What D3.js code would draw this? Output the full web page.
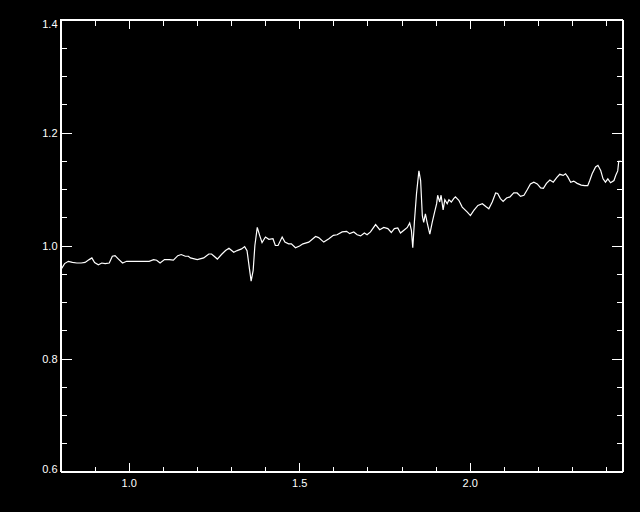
<!DOCTYPE html>
<html>
<head>
<meta charset="utf-8">
<script src="https://cdn.jsdelivr.net/npm/d3@7"></script>
<style>
  html, body { margin: 0; padding: 0; background: #000; }
  svg { display: block; }
  .tick text { font-family: "Liberation Sans", Arial, sans-serif; font-size: 11px; fill: #fff; }
</style>
</head>
<body>
<div id="chart"></div>
<script>
// spectrum values
const wave = [0.802,0.812,0.823,0.835,0.848,0.861,0.872,0.884,0.892,0.900,0.911,0.921,0.931,0.943,0.952,0.960,0.970,0.982,0.994,1.009,
  1.029,1.046,1.060,1.073,1.082,1.092,1.105,1.119,1.131,1.144,1.154,1.166,1.175,1.181,1.201,1.220,1.235,1.243,1.260,1.272,
  1.284,1.294,1.308,1.318,1.331,1.340,1.347,1.354,1.359,1.365,1.370,1.377,1.384,1.391,1.401,1.411,1.423,1.430,1.438,1.450,
  1.458,1.469,1.477,1.489,1.501,1.511,1.528,1.548,1.557,1.572,1.587,1.600,1.611,1.626,1.639,1.648,1.660,1.670,1.680,1.691,
  1.699,1.709,1.724,1.736,1.748,1.760,1.770,1.779,1.789,1.797,1.807,1.817,1.824,1.829,1.833,1.838,1.844,1.851,1.856,1.861,
  1.865,1.870,1.875,1.883,1.890,1.897,1.903,1.906,1.912,1.916,1.922,1.927,1.934,1.939,1.946,1.953,1.958,1.968,1.978,1.993,
  2.002,2.012,2.024,2.037,2.049,2.056,2.066,2.076,2.082,2.090,2.098,2.108,2.118,2.129,2.139,2.149,2.159,2.169,2.178,2.188,
  2.198,2.208,2.216,2.225,2.235,2.245,2.255,2.264,2.274,2.281,2.288,2.296,2.305,2.315,2.327,2.337,2.346,2.352,2.359,2.369,
  2.376,2.384,2.391,2.398,2.405,2.413,2.423,2.428,2.434,2.437,2.444];
const flux = [0.958,0.968,0.972,0.970,0.969,0.969,0.970,0.975,0.978,0.970,0.966,0.969,0.968,0.969,0.981,0.982,0.976,0.969,0.972,0.972,
  0.972,0.972,0.972,0.975,0.974,0.969,0.975,0.975,0.974,0.982,0.984,0.981,0.981,0.978,0.975,0.978,0.985,0.985,0.976,0.984,
  0.991,0.995,0.988,0.991,0.994,0.998,0.991,0.959,0.937,0.956,1.000,1.032,1.018,1.005,1.015,1.011,1.012,1.000,1.000,1.015,
  1.006,1.003,1.003,0.996,0.999,1.003,1.006,1.016,1.014,1.006,1.012,1.018,1.019,1.024,1.025,1.021,1.024,1.019,1.017,1.022,
  1.019,1.024,1.037,1.028,1.032,1.030,1.023,1.030,1.031,1.022,1.027,1.032,1.040,1.027,0.996,1.044,1.092,1.132,1.115,1.053,
  1.041,1.056,1.041,1.020,1.041,1.059,1.074,1.089,1.077,1.089,1.063,1.081,1.074,1.081,1.077,1.083,1.086,1.080,1.068,1.059,
  1.053,1.062,1.071,1.074,1.068,1.065,1.077,1.093,1.092,1.083,1.078,1.084,1.086,1.093,1.093,1.087,1.089,1.099,1.109,1.112,
  1.109,1.102,1.101,1.110,1.116,1.112,1.120,1.126,1.124,1.127,1.121,1.112,1.114,1.110,1.107,1.106,1.106,1.115,1.127,1.139,
  1.142,1.133,1.118,1.112,1.118,1.111,1.115,1.124,1.132,1.149,1.149];

const xMajor = [1.0, 1.5, 2.0];
const xMinor = [0.9, 1.0, 1.1, 1.2, 1.3, 1.4, 1.5, 1.6, 1.7, 1.8, 1.9, 2.0, 2.1, 2.2, 2.3, 2.4];
const yMajor = [0.6, 0.8, 1.0, 1.2, 1.4];
const yMinor = [0.65, 0.7, 0.75, 0.85, 0.9, 0.95, 1.05, 1.1, 1.15, 1.25, 1.3, 1.35];

const width = 640, height = 512;
const pLeft = 60.5, pRight = 622.5, pTop = 19.5, pBottom = 471.5;

const svg = d3.select("#chart").append("svg")
  .attr("width", width).attr("height", height)
  .style("background", "#000");

const x = d3.scaleLinear().domain([0.8, 2.448]).range([pLeft, pRight]);
const y = d3.scaleLinear().domain([0.6, 1.4]).range([pBottom, pTop]);

// draws one axis and whitens it
function drawAxis(axis, tx, ty, labels) {
  const g = svg.append("g")
    .attr("transform", "translate(" + tx + "," + ty + ")")
    .attr("shape-rendering", "crispEdges")
    .call(axis);
  g.selectAll("line, path").attr("stroke", "#fff");
  if (!labels) g.selectAll("text").remove();
  return g;
}

// minor ticks first
drawAxis(d3.axisBottom(x).tickValues(xMinor).tickSizeInner(-5).tickSizeOuter(0), 0, pBottom, false);
drawAxis(d3.axisTop(x).tickValues(xMinor).tickSizeInner(-6).tickSizeOuter(0), 0, pTop, false);
drawAxis(d3.axisLeft(y).tickValues(yMinor).tickSizeInner(-6).tickSizeOuter(0), pLeft, 0, false);
drawAxis(d3.axisRight(y).tickValues(yMinor).tickSizeInner(-6).tickSizeOuter(0), pRight, 0, false);

// major ticks with labels
drawAxis(d3.axisBottom(x).tickValues(xMajor).tickFormat(d3.format(".1f")).tickSizeInner(-9).tickSizeOuter(0).tickPadding(8), 0, pBottom, true);
drawAxis(d3.axisTop(x).tickValues(xMajor).tickSizeInner(-9).tickSizeOuter(0), 0, pTop, false);
const yl = drawAxis(d3.axisLeft(y).tickValues(yMajor).tickFormat(d3.format(".1f")).tickSizeInner(-11).tickSizeOuter(0).tickPadding(3), pLeft, 0, true);
yl.selectAll("text").attr("dy", (d) => d === 1.4 ? "0.75em" : d === 0.6 ? "0.1em" : "0.35em");
drawAxis(d3.axisRight(y).tickValues(yMajor).tickSizeInner(-11).tickSizeOuter(0), pRight, 0, false);

// frame
svg.append("rect")
  .attr("x", pLeft).attr("y", pTop)
  .attr("width", pRight - pLeft).attr("height", pBottom - pTop)
  .attr("fill", "none").attr("stroke", "#fff")
  .attr("shape-rendering", "crispEdges");

// spectrum line
const line = d3.line()
  .x((d, i) => x(wave[i]))
  .y((d) => y(d));

svg.append("path")
  .datum(flux)
  .attr("d", line)
  .attr("fill", "none")
  .attr("stroke", "#fff")
  .attr("stroke-width", 1.2);
</script>
</body>
</html>
